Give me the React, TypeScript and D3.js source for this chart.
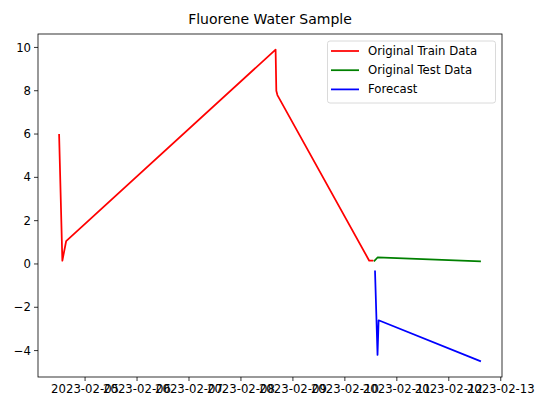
import React from "react";
import * as d3 from "d3";

const trainDates = ["2023-02-04T12:00", "2023-02-04T13:30", "2023-02-04T15:15", "2023-02-08T16:00", "2023-02-08T16:20", "2023-02-08T16:50", "2023-02-10T11:15", "2023-02-10T13:10"];
const trainValues = [6.0, 0.15, 1.05, 9.9, 8.0, 7.8, 0.15, 0.15];
const testDates = ["2023-02-10T13:25", "2023-02-10T15:05", "2023-02-12T14:50"];
const testValues = [0.12, 0.3, 0.12];
const forecastDates = ["2023-02-10T13:55", "2023-02-10T15:05", "2023-02-10T15:35", "2023-02-12T14:50"];
const forecastValues = [-0.3, -4.2, -2.6, -4.5];
const xTickLabels = ["2023-02-05", "2023-02-06", "2023-02-07", "2023-02-08", "2023-02-09", "2023-02-10", "2023-02-11", "2023-02-12", "2023-02-13"];
const yTickValues = [-4, -2, 0, 2, 4, 6, 8, 10];
const seriesNames = ["Original Train Data", "Original Test Data", "Forecast"];
const seriesColors = ["#ff0000", "#008000", "#0000ff"];

const W = 539, H = 400;
const L = 38, R = 502, T = 34, B = 377;
const FONT = "DejaVu Sans, sans-serif";

export default function App() {
  const parse = d3.utcParse("%Y-%m-%dT%H:%M");
  const parseDay = d3.utcParse("%Y-%m-%d");
  const series = [
    { dates: trainDates.map((d) => parse(d)!), values: trainValues },
    { dates: testDates.map((d) => parse(d)!), values: testValues },
    { dates: forecastDates.map((d) => parse(d)!), values: forecastValues },
  ];
  const allT = series.flatMap((s) => s.dates.map((d) => d.getTime()));
  const allV = series.flatMap((s) => s.values);
  const [t0, t1] = d3.extent(allT) as [number, number];
  const [v0, v1] = d3.extent(allV) as [number, number];
  const pt = (t1 - t0) * 0.05, pv = (v1 - v0) * 0.05;
  const x = d3.scaleUtc().domain([new Date(t0 - pt), new Date(t1 + pt)]).range([L, R]);
  const y = d3.scaleLinear().domain([v0 - pv, v1 + pv]).range([B, T]);

  const lines = series.map((s) =>
    d3.line<number>().x((_, i) => x(s.dates[i])).y((v) => y(v))(s.values) || ""
  );

  return (
    <svg width={W} height={H} style={{ position: "absolute", left: 0, top: 0, background: "#fff" }} fontFamily={FONT}>
      <rect x={0} y={0} width={W} height={H} fill="#fff" />
      <text x={(L + R) / 2} y={24} textAnchor="middle" fontSize={14} fill="#000">Fluorene Water Sample</text>
      {lines.map((d, i) => (
        <path key={i} d={d} fill="none" stroke={seriesColors[i]} strokeWidth={1.75} strokeLinejoin="round" strokeLinecap="butt" />
      ))}
      <rect x={L} y={T} width={R - L} height={B - T} fill="none" stroke="#000" strokeWidth={0.8} />
      {yTickValues.map((v) => (
        <g key={v}>
          <line x1={L - 4} x2={L} y1={y(v)} y2={y(v)} stroke="#000" strokeWidth={0.8} />
          <text x={L - 7} y={y(v)} dy="0.35em" textAnchor="end" fontSize={11.7} fill="#000">{v < 0 ? "\u2212" + Math.abs(v) : v}</text>
        </g>
      ))}
      {xTickLabels.map((s) => {
        const xp = x(parseDay(s)!);
        return (
          <g key={s}>
            <line x1={xp} x2={xp} y1={B} y2={B + 4} stroke="#000" strokeWidth={0.8} />
            <text x={xp} y={B + 7} dy="0.8em" textAnchor="middle" fontSize={11.7} fill="#000">{s}</text>
          </g>
        );
      })}
      <rect x={327.5} y={41} width={168} height={62} rx={2.5} fill="#fff" fillOpacity={0.8} stroke="#d0d0d0" strokeWidth={0.8} />
      {seriesNames.map((n, i) => (
        <g key={n}>
          <line x1={331} x2={359} y1={51 + i * 19.2} y2={51 + i * 19.2} stroke={seriesColors[i]} strokeWidth={1.75} />
          <text x={368} y={51 + i * 19.2} dy="0.35em" fontSize={11.7} fill="#000">{n}</text>
        </g>
      ))}
    </svg>
  );
}
